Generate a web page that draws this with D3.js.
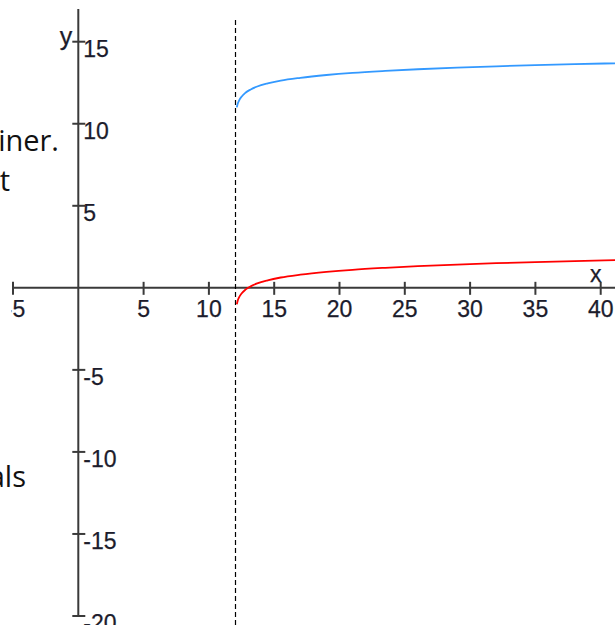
<!DOCTYPE html>
<html lang="en">
<head>
  <meta charset="UTF-8">
  <title>Two logarithmic curves with asymptote at x = 12</title>
  <script src="https://d3js.org/d3.v7.min.js"></script>
  <style>
    body {
      margin: 0;
      background: #ffffff;
    }
    svg {
      display: block;
      background: #ffffff;
    }
    .tick-label {
      font-family: "Liberation Sans", Arial, sans-serif;
      font-size: 23px;
      fill: #1c1c2c;
      stroke: #1c1c2c;
      stroke-width: 0.25px;
    }
    .page-text {
      font-family: "Open Sans", "Noto Sans", sans-serif;
      font-size: 29px;
      fill: #111;
    }
  </style>
</head>
<body>
  <svg id="chart" width="615" height="625"></svg>

  <script>
    // Tick values on both axes (0 is left out, as in the picture).
    const xTicks = [-5, 5, 10, 15, 20, 25, 30, 35, 40];
    const yTicks = [15, 10, 5, -5, -10, -15, -20];

    // Vertical asymptote.
    const asymptoteX = 12;

    // Points.
    const curveX    = [12.14, 12.2, 12.3, 12.5, 12.8, 13.2, 13.7, 14.5, 15.5, 17, 19, 21, 23.5, 26, 29, 32, 35, 38, 41.5];
    const redY      = [-1.0, -0.8, -0.6, -0.35, -0.11, 0.09, 0.27, 0.46, 0.63, 0.80, 0.97, 1.10, 1.22, 1.32, 1.42, 1.50, 1.57, 1.63, 1.69];
    const blueY     = [11.0, 11.2, 11.4, 11.65, 11.89, 12.09, 12.27, 12.46, 12.63, 12.80, 12.97, 13.10, 13.22, 13.32, 13.42, 13.50, 13.57, 13.63, 13.69];

    // Fragments of page text cut off at the left edge.
    const pageText = [
      {text: "iner.", x: 59, y: 151},
      {text: "t",     x: 10, y: 191},
      {text: "als",   x: 26, y: 487}
    ];

    const svg = d3.select("#chart");
    const W = +svg.attr("width"), H = +svg.attr("height");

    const x = d3.scaleLinear().domain([-5, 40]).range([13, 600.7]);
    const y = d3.scaleLinear().domain([15, -20]).range([41.7, 616]);

    const x0 = x(0), y0 = y(0);

    // the crop of the picture hides the minus of the leftmost x label
    svg.append("clipPath").attr("id", "labelClip")
      .append("rect").attr("x", 11.5).attr("y", 0).attr("width", W).attr("height", H);

    // page text fragments
    svg.selectAll("text.page-text")
      .data(pageText)
      .join("text")
        .attr("class", "page-text")
        .attr("x", d => d.x)
        .attr("y", d => d.y)
        .attr("text-anchor", "end")
        .text(d => d.text);

    const axisColor = "#3a3a3a";

    // x axis
    const xAxis = svg.append("g").attr("transform", `translate(0,${y0})`);
    xAxis.append("line")
      .attr("x1", x(-5)).attr("x2", W)
      .attr("stroke", axisColor).attr("stroke-width", 2);
    xAxis.selectAll("line.tick")
      .data(xTicks)
      .join("line")
        .attr("class", "tick")
        .attr("x1", d => x(d)).attr("x2", d => x(d))
        .attr("y1", -6).attr("y2", 7)
        .attr("stroke", axisColor).attr("stroke-width", 2);
    xAxis.append("g").attr("clip-path", "url(#labelClip)")
      .selectAll("text")
      .data(xTicks)
      .join("text")
        .attr("class", "tick-label")
        .attr("x", d => x(d) + (d < 0 ? 2 : 0))
        .attr("y", 29)
        .attr("text-anchor", "middle")
        .text(d => String(d));
    xAxis.append("text")
      .attr("class", "tick-label")
      .attr("x", x(40) - 5)
      .attr("y", -6)
      .attr("text-anchor", "middle")
      .text("x");

    // y axis
    const yAxis = svg.append("g").attr("transform", `translate(${x0},0)`);
    yAxis.append("line")
      .attr("y1", 9).attr("y2", y(-20))
      .attr("stroke", axisColor).attr("stroke-width", 2);
    yAxis.selectAll("line.tick")
      .data(yTicks)
      .join("line")
        .attr("class", "tick")
        .attr("x1", -6).attr("x2", 7)
        .attr("y1", d => y(d)).attr("y2", d => y(d))
        .attr("stroke", axisColor).attr("stroke-width", 2);
    yAxis.selectAll("text.tick-label")
      .data(yTicks)
      .join("text")
        .attr("class", "tick-label")
        .attr("x", 5)
        .attr("y", d => y(d) + 15)
        .attr("text-anchor", "start")
        .text(d => String(d));
    yAxis.append("text")
      .attr("class", "tick-label")
      .style("font-size", "25px")
      .attr("x", -6)
      .attr("y", 45)
      .attr("text-anchor", "end")
      .text("y");

    // dashed asymptote
    const ax = Math.round(x(asymptoteX)) + 0.5;
    svg.append("line")
      .attr("x1", ax).attr("x2", ax)
      .attr("y1", 20).attr("y2", H)
      .attr("stroke", "#000").attr("stroke-width", 1.2)
      .attr("stroke-dasharray", "5,3");

    // curves
    const line = d3.line()
      .x(d => x(d[0]))
      .y(d => y(d[1]))
      .curve(d3.curveMonotoneX);

    svg.append("path")
      .datum(d3.zip(curveX, blueY))
      .attr("fill", "none")
      .attr("stroke", "#3399ff")
      .attr("stroke-width", 1.8)
      .attr("d", line);

    svg.append("path")
      .datum(d3.zip(curveX, redY))
      .attr("fill", "none")
      .attr("stroke", "#ff0000")
      .attr("stroke-width", 1.8)
      .attr("d", line);
  </script>
</body>
</html>
